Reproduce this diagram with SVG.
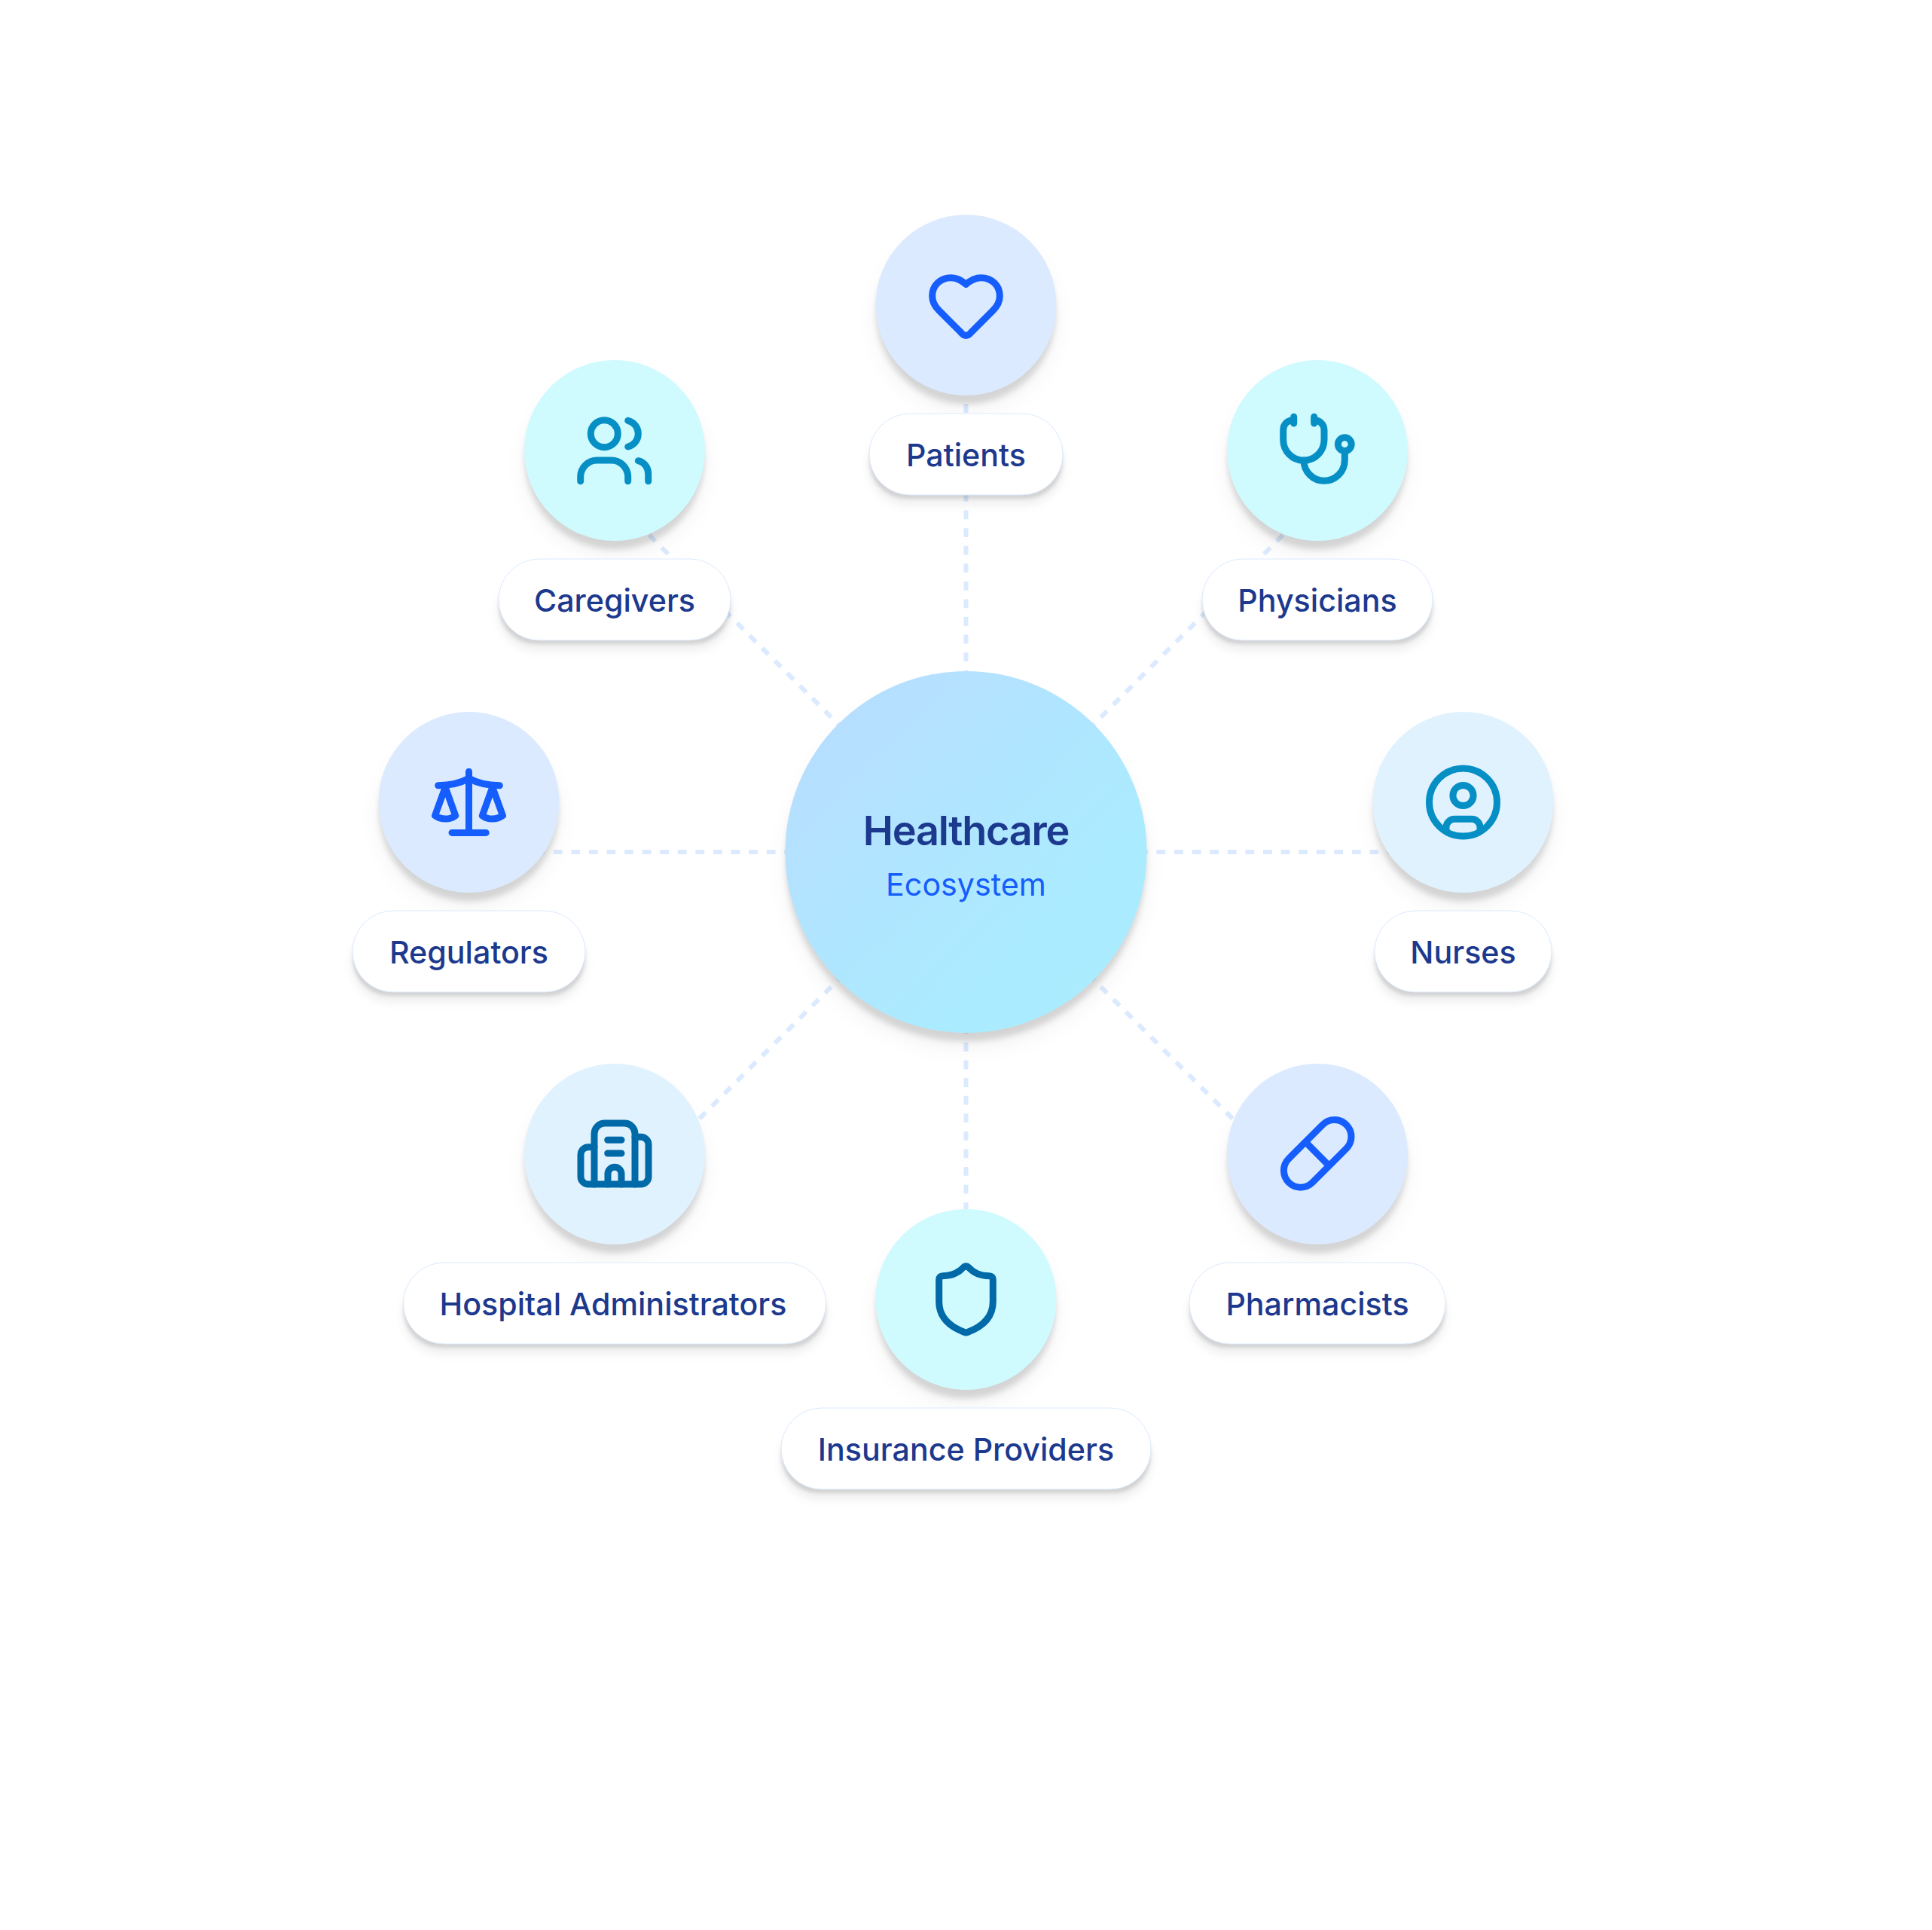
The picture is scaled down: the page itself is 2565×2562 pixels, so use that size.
<svg xmlns="http://www.w3.org/2000/svg" width="2565" height="2562" viewBox="0 0 2565 2562">
<style>
text{font-family:Inter,"Liberation Sans",sans-serif;text-anchor:middle}
.lab{font-size:41.2px;font-weight:500;fill:#1c398e}
.title{font-size:54px;font-weight:600;fill:#1c398e;letter-spacing:-1.25px}
.sub{font-size:41.2px;font-weight:400;fill:#155dfc}
.pill{fill:#fff;stroke:#dbeafe;stroke-width:1}
.ic{fill:none;stroke-width:9;stroke-linecap:round;stroke-linejoin:round}
.b{stroke:#155dfc}.c{stroke:#058fc5}.d{stroke:#0069a8}
.s1{fill:#000;fill-opacity:.07;filter:url(#b15)}
.s2{fill:#000;fill-opacity:.12;filter:url(#b35)}
.s3{fill:#000;fill-opacity:.06;filter:url(#b6);transform:translateY(4px)}
.s4{fill:#000;fill-opacity:.12;filter:url(#b2);transform:translateY(5px)}
#links line{stroke:#dbeafe;stroke-width:6;stroke-dasharray:11.8 11.78;stroke-dashoffset:-17.2}
</style>
<defs>
<linearGradient id="hub" x1="0" y1="0" x2="1" y2="1"><stop offset=".15" stop-color="#b6dfff"/><stop offset=".7" stop-color="#abebff"/><stop offset="1" stop-color="#abecff"/></linearGradient>
<filter id="b15" x="-50%" y="-50%" width="200%" height="200%"><feGaussianBlur stdDeviation="15"/></filter>
<filter id="b35" x="-50%" y="-50%" width="200%" height="200%"><feGaussianBlur stdDeviation="3.5"/></filter>
<filter id="b6" x="-50%" y="-50%" width="200%" height="200%"><feGaussianBlur stdDeviation="6"/></filter>
<filter id="b2" x="-50%" y="-50%" width="200%" height="200%"><feGaussianBlur stdDeviation="2"/></filter>
</defs>
<rect width="2565" height="2562" fill="#fff"/>
<g id="links">
<line x1="1282.5" y1="1131" x2="1282.5" y2="471"/>
<line x1="1282.5" y1="1131" x2="1749.2" y2="664.3"/>
<line x1="1282.5" y1="1131" x2="1942.5" y2="1131"/>
<line x1="1282.5" y1="1131" x2="1749.2" y2="1597.7"/>
<line x1="1282.5" y1="1131" x2="1282.5" y2="1791"/>
<line x1="1282.5" y1="1131" x2="815.8" y2="1597.7"/>
<line x1="1282.5" y1="1131" x2="622.5" y2="1131"/>
<line x1="1282.5" y1="1131" x2="815.8" y2="664.3"/>
</g>
<g id="hub-node">
<circle class="s1" cx="1282.5" cy="1151" r="234"/><circle class="s2" cx="1282.5" cy="1143" r="239.5"/>
<circle cx="1282.5" cy="1131" r="240" fill="url(#hub)"/>
<text class="title" x="1282.5" y="1121.5">Healthcare</text>
<text class="sub" x="1282.5" y="1189">Ecosystem</text>
</g>
<g id="patients">
<circle class="s1" cx="1282.5" cy="425" r="114"/><circle class="s2" cx="1282.5" cy="417" r="119.5"/>
<circle cx="1282.5" cy="405" r="120" fill="#dbeafe"/>
<path class="ic b" transform="translate(1282.5 405)" d="M0,-27.5C-6,-33 -14,-36.3 -20,-36.3C-34,-36.3 -44.8,-26 -44.8,-12C-44.8,-4 -41,2 -36,7L-7,36Q0,45 7,36L36,7C41,2 44.8,-4 44.8,-12C44.8,-26 34,-36.3 20,-36.3C14,-36.3 6,-33 0,-27.5Z"/>
<rect class="s3" x="1153" y="563" width="259" height="104" rx="52"/><rect class="s4" x="1154" y="557" width="257" height="100" rx="50"/>
<rect class="pill" x="1154" y="549" width="257" height="108" rx="54"/>
<text class="lab" x="1282.5" y="619">Patients</text>
</g>
<g id="physicians">
<circle class="s1" cx="1749" cy="618" r="114"/><circle class="s2" cx="1749" cy="610" r="119.5"/>
<circle cx="1749" cy="598" r="120" fill="#cffafe"/>
<g class="ic c" transform="translate(1749 598)">
<path d="M-31.3,-40.5C-39,-40 -45.3,-36 -45.3,-27V-14A27.15,27.15 0 0 0 9,-14V-27C9,-35 3,-40 -4.3,-40.5"/>
<path d="M-31.3,-44.7V-36M-4.3,-44.7V-36"/>
<path d="M-18,13A27,27 0 0 0 9,40.3A27.3,27.3 0 0 0 36.3,13V0.6"/>
<circle cx="36.3" cy="-8.3" r="8.9"/>
</g>
<rect class="s3" x="1595" y="756" width="308" height="104" rx="52"/><rect class="s4" x="1596" y="750" width="306" height="100" rx="50"/>
<rect class="pill" x="1596" y="742" width="306" height="108" rx="54"/>
<text class="lab" x="1749" y="812">Physicians</text>
</g>
<g id="nurses">
<circle class="s1" cx="1942.5" cy="1085" r="114"/><circle class="s2" cx="1942.5" cy="1077" r="119.5"/>
<circle cx="1942.5" cy="1065" r="120" fill="#e0f2fe"/>
<g class="ic c" transform="translate(1942.5 1065)">
<circle r="45"/><circle cy="-9" r="13.6"/>
<path d="M-22.5,36.7V33A11,11 0 0 1 -11.5,22.3H11.5A11,11 0 0 1 22.5,33V36.7"/>
</g>
<rect class="s3" x="1824" y="1223" width="237" height="104" rx="52"/><rect class="s4" x="1825" y="1217" width="235" height="100" rx="50"/>
<rect class="pill" x="1825" y="1209" width="235" height="108" rx="54"/>
<text class="lab" x="1942.5" y="1279">Nurses</text>
</g>
<g id="pharmacists">
<circle class="s1" cx="1749" cy="1552" r="114"/><circle class="s2" cx="1749" cy="1544" r="119.5"/>
<circle cx="1749" cy="1532" r="120" fill="#dbeafe"/>
<g class="ic b" transform="translate(1749 1532)">
<rect x="-54.1" y="-22.3" width="108.2" height="44.6" rx="22.3" transform="translate(0.2 -0.65) rotate(-45)"/>
<path d="M-15,-15.3L13.7,13.7"/>
</g>
<rect class="s3" x="1578" y="1690" width="342" height="104" rx="52"/><rect class="s4" x="1579" y="1684" width="340" height="100" rx="50"/>
<rect class="pill" x="1579" y="1676" width="340" height="108" rx="54"/>
<text class="lab" x="1749" y="1746">Pharmacists</text>
</g>
<g id="insurance-providers">
<circle class="s1" cx="1282.5" cy="1745" r="114"/><circle class="s2" cx="1282.5" cy="1737" r="119.5"/>
<circle cx="1282.5" cy="1725" r="120" fill="#cffafe"/>
<path class="ic d" transform="translate(1282.5 1725)" d="M-35.8,-26Q-35.8,-31.3 -30.5,-31.3C-20,-31.3 -10,-35.5 -3.5,-42.5Q0,-46 3.5,-42.5C10,-35.5 20,-31.3 30.5,-31.3Q35.8,-31.3 35.8,-26V3C35.8,24 22,36 2,43.5Q0,44.5 -2,43.5C-22,36 -35.8,24 -35.8,3Z"/>
<rect class="s3" x="1036" y="1883" width="493" height="104" rx="52"/><rect class="s4" x="1037" y="1877" width="491" height="100" rx="50"/>
<rect class="pill" x="1037" y="1869" width="491" height="108" rx="54"/>
<text class="lab" x="1282.5" y="1939">Insurance Providers</text>
</g>
<g id="hospital-administrators">
<circle class="s1" cx="816" cy="1552" r="114"/><circle class="s2" cx="816" cy="1544" r="119.5"/>
<circle cx="816" cy="1532" r="120" fill="#e0f2fe"/>
<g class="ic d" transform="translate(816 1532)">
<path d="M-27,-9.3H-35A10,10 0 0 0 -45,0.7V30A10,10 0 0 0 -35,40H35A10,10 0 0 0 45,30V-12.7A10,10 0 0 0 35,-22.7H27"/>
<path d="M-27,40V-27A14,14 0 0 1 -13,-41H13A14,14 0 0 1 27,-27V40"/>
<path d="M-9.3,-18.7H9M-9.3,-1H9"/>
<path d="M-9,40V26.3A9,9 0 0 1 9,26.3V40"/>
</g>
<rect class="s3" x="534.5" y="1690" width="563" height="104" rx="52"/><rect class="s4" x="535.5" y="1684" width="561" height="100" rx="50"/>
<rect class="pill" x="535.5" y="1676" width="561" height="108" rx="54"/>
<text class="lab" x="814" y="1746">Hospital Administrators</text>
</g>
<g id="regulators">
<circle class="s1" cx="622.5" cy="1085" r="114"/><circle class="s2" cx="622.5" cy="1077" r="119.5"/>
<circle cx="622.5" cy="1065" r="120" fill="#dbeafe"/>
<g class="ic b" transform="translate(622.5 1065)">
<path d="M0,-40.7V40.4M-22.5,40.4H22.7"/>
<path d="M-40.8,-22.3C-25,-22.3 -12,-25 0,-31.7C12,-25 25,-22.3 40.8,-22.3"/>
<path d="M-31.3,-20L-45,17.7C-37,23.5 -25,23.5 -17.8,17.7Z"/>
<path d="M31.3,-20L45,17.7C37,23.5 25,23.5 17.8,17.7Z"/>
</g>
<rect class="s3" x="467" y="1223" width="311" height="104" rx="52"/><rect class="s4" x="468" y="1217" width="309" height="100" rx="50"/>
<rect class="pill" x="468" y="1209" width="309" height="108" rx="54"/>
<text class="lab" x="622.5" y="1279">Regulators</text>
</g>
<g id="caregivers">
<circle class="s1" cx="816" cy="618" r="114"/><circle class="s2" cx="816" cy="610" r="119.5"/>
<circle cx="816" cy="598" r="120" fill="#cffafe"/>
<g class="ic c" transform="translate(816 598)">
<circle cx="-13.7" cy="-22.3" r="18"/>
<path d="M17.7,-39.7C26,-37.5 31.3,-30.5 31.3,-22.3C31.3,-14 26,-7 17.7,-5"/>
<path d="M-45.3,40.7V35A22,22 0 0 1 -23.3,13H-4.3A22,22 0 0 1 17.7,35V40.7"/>
<path d="M31.3,13.7C39,15.5 44.7,22 44.7,31V40.7"/>
</g>
<rect class="s3" x="661" y="756" width="310" height="104" rx="52"/><rect class="s4" x="662" y="750" width="308" height="100" rx="50"/>
<rect class="pill" x="662" y="742" width="308" height="108" rx="54"/>
<text class="lab" x="816" y="812">Caregivers</text>
</g>
</svg>
